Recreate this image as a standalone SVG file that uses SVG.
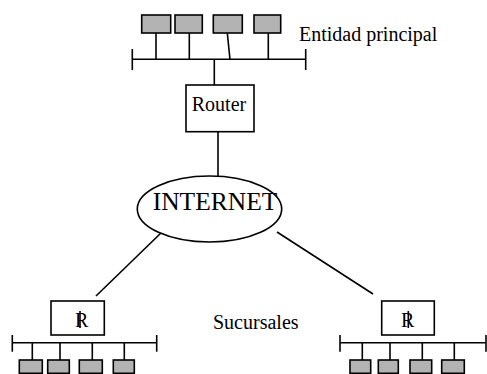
<svg xmlns="http://www.w3.org/2000/svg" width="487" height="374" viewBox="0 0 487 374">
<style>
.ln{stroke:#000;stroke-width:1.6;fill:none}
.box{fill:#fff;stroke:#000;stroke-width:1.6}
.pc{fill:#b3b3b3;stroke:#000;stroke-width:1.6}
.t{font-family:"Liberation Serif","Times New Roman",serif;fill:#000}
</style>
<rect width="487" height="374" fill="#fff"/>
<g id="connectors">
<line class="ln" x1="218" y1="132" x2="218" y2="176"/>
<line class="ln" x1="214.3" y1="59.3" x2="214.3" y2="85"/>
<line class="ln" x1="162" y1="232" x2="96" y2="296"/>
<line class="ln" x1="277" y1="232" x2="373" y2="294"/>
</g>
<g id="entidad-principal">
<line class="ln" x1="132.3" y1="59.3" x2="305.7" y2="59.3"/>
<line class="ln" x1="132.3" y1="49" x2="132.3" y2="70"/>
<line class="ln" x1="305.7" y1="49" x2="305.7" y2="70"/>
<line class="ln" x1="156" y1="33" x2="156" y2="59.3"/>
<line class="ln" x1="189.3" y1="33" x2="189.3" y2="59.3"/>
<line class="ln" x1="227.3" y1="33" x2="230" y2="59.3"/>
<line class="ln" x1="268.3" y1="33" x2="268.3" y2="59.3"/>
<rect class="pc" x="141.7" y="15" width="29" height="18"/>
<rect class="pc" x="175" y="15" width="27.3" height="18"/>
<rect class="pc" x="213.3" y="15" width="29" height="18"/>
<rect class="pc" x="254" y="15" width="26.7" height="18"/>
<text class="t" x="299" y="41" font-size="20">Entidad principal</text>
</g>
<g id="router">
<rect class="box" x="186" y="85" width="68" height="46.7"/>
<text class="t" x="219" y="111" font-size="20" text-anchor="middle">Router</text>
</g>
<g id="internet">
<ellipse class="box" cx="209.5" cy="209" rx="72.2" ry="33"/>
<text class="t" x="215" y="210" font-size="25.5" text-anchor="middle">INTERNET</text>
</g>
<g id="sucursal-izquierda">
<rect class="box" x="51" y="301" width="53.3" height="34"/>
<text class="t" x="75" y="327.3" font-size="20">R</text>
<line class="ln" x1="80" y1="311" x2="80" y2="328"/>
<line class="ln" x1="12.3" y1="342.7" x2="156.7" y2="342.7"/>
<line class="ln" x1="12.3" y1="335" x2="12.3" y2="351.7"/>
<line class="ln" x1="156.7" y1="335" x2="156.7" y2="351.7"/>
<line class="ln" x1="32.3" y1="342.7" x2="32.3" y2="360"/>
<line class="ln" x1="60" y1="342.7" x2="60" y2="360"/>
<line class="ln" x1="92.3" y1="342.7" x2="92.3" y2="360"/>
<line class="ln" x1="124.3" y1="342.7" x2="124.3" y2="360"/>
<rect class="pc" x="19.3" y="360" width="23" height="13.3"/>
<rect class="pc" x="47.7" y="360" width="21.6" height="13.3"/>
<rect class="pc" x="79.3" y="360" width="23" height="13.3"/>
<rect class="pc" x="113.3" y="360" width="21" height="13.3"/>
</g>
<g id="sucursal-derecha">
<rect class="box" x="381.7" y="301" width="52.6" height="34"/>
<text class="t" x="401" y="327.3" font-size="20">R</text>
<line class="ln" x1="408.3" y1="311" x2="408.3" y2="328"/>
<line class="ln" x1="340" y1="342.7" x2="486" y2="342.7"/>
<line class="ln" x1="340" y1="335" x2="340" y2="351.7"/>
<line class="ln" x1="486" y1="335" x2="486" y2="351.7"/>
<line class="ln" x1="362.3" y1="342.7" x2="362.3" y2="360"/>
<line class="ln" x1="390" y1="342.7" x2="390" y2="360"/>
<line class="ln" x1="422.3" y1="342.7" x2="422.3" y2="360"/>
<line class="ln" x1="454.3" y1="342.7" x2="454.3" y2="360"/>
<rect class="pc" x="350" y="360" width="20.7" height="13.3"/>
<rect class="pc" x="378.3" y="360" width="20" height="13.3"/>
<rect class="pc" x="410" y="360" width="21.7" height="13.3"/>
<rect class="pc" x="441.7" y="360" width="22.6" height="13.3"/>
</g>
<text id="sucursales" class="t" x="213" y="329" font-size="20">Sucursales</text>
</svg>
